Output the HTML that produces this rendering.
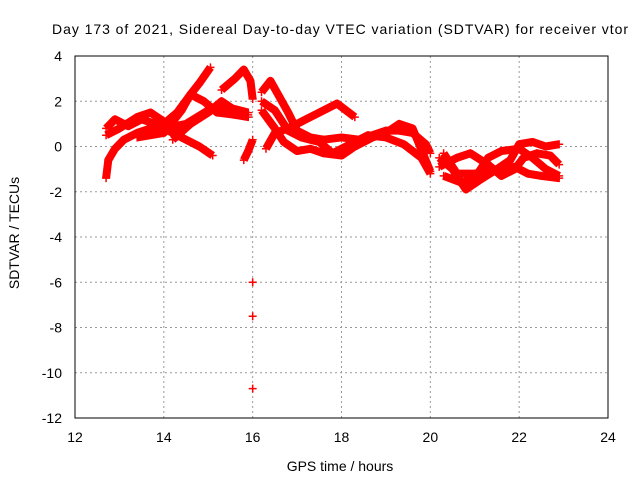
<!DOCTYPE html>
<html><head><meta charset="utf-8"><style>
body{margin:0;background:#fff}
svg text{font-family:"Liberation Sans",sans-serif;font-size:14px;fill:#000}
</style></head><body>
<svg id="c" width="640" height="480">
<text x="52" y="34" textLength="576" lengthAdjust="spacing">Day 173 of 2021, Sidereal Day-to-day VTEC variation (SDTVAR) for receiver vtor</text>
<text x="340" y="471" text-anchor="middle">GPS time / hours</text>
<text transform="translate(19,233) rotate(-90)" text-anchor="middle">SDTVAR / TECUs</text>
<g id="grid"></g><g id="marks"></g>
<rect x="75" y="56" width="533" height="362" fill="none" stroke="#000"/>
</svg>
<script>
const xTicks=[12,14,16,18,20,22,24];
const yTicks=[4,2,0,-2,-4,-6,-8,-10,-12];
const tracks=[
[[12.7,-1.4],[12.75,-0.6],[12.9,-0.1],[13.1,0.3],[13.4,0.6],[13.7,0.8],[14.0,1.0],[14.3,1.5],[14.6,2.3],[14.8,2.8],[15.05,3.5]],
[[12.7,0.8],[12.9,1.2],[13.2,0.9],[13.5,1.2],[13.8,1.0],[14.1,0.7],[14.5,0.3],[14.8,0],[15.1,-0.4]],
[[12.7,0.5],[13.0,0.8],[13.4,1.3],[13.7,1.5],[14.0,1.1],[14.4,0.7]],
[[13.4,0.4],[14.0,0.6],[14.4,1.6],[14.6,2.3],[14.9,2.0],[15.2,1.5],[15.6,1.4],[15.9,1.3]],
[[14.0,0.8],[14.5,1.0],[15.0,1.6],[15.5,1.7],[15.9,1.5]],
[[14.2,0.3],[14.6,1.0],[15.0,1.5],[15.3,2.0],[15.6,1.6],[15.9,1.4]],
[[15.3,2.5],[15.6,3.0],[15.8,3.4],[15.95,2.9],[16.0,2.1]],
[[15.8,-0.6],[15.9,-0.2],[16.0,0.3]],
[[16.2,2.4],[16.4,2.9],[16.6,2.2],[16.8,1.5],[17.0,0.7],[17.3,0.4],[17.6,0.3],[18.0,0.4],[18.4,0.3],[18.7,0.5],[19.0,0.7],[19.3,0.7],[19.6,0.6],[19.9,0.1],[20.0,-0.3]],
[[16.2,1.6],[16.5,0.8],[16.7,0.2],[17.0,-0.2],[17.3,-0.1],[17.6,-0.3],[18.0,-0.4],[18.3,0],[18.7,0.4],[19.0,0.6],[19.3,1.0],[19.6,0.8],[20.0,-1.1]],
[[16.3,-0.1],[16.5,0.6],[16.8,0.8],[17.2,1.2],[17.6,1.6],[17.9,1.9],[18.1,1.6],[18.3,1.3]],
[[16.2,2.0],[16.5,1.6],[16.8,0.7],[17.1,0.4],[17.5,0.2],[17.8,-0.3],[18.2,0.1],[18.6,0.5],[19.0,0.4],[19.4,0.1],[19.8,-0.5],[20.0,-1.2]],
[[20.2,-0.5],[20.5,-1.0],[20.8,-1.9],[21.1,-1.5],[21.5,-1.0],[21.8,-0.6],[22.0,0.1],[22.3,0.2],[22.6,0.0],[22.9,0.1]],
[[20.2,-0.9],[20.6,-0.5],[20.9,-0.3],[21.3,-0.8],[21.6,-1.3],[21.9,-1.0],[22.1,-0.5],[22.4,-0.3],[22.7,-0.4],[22.9,-0.8]],
[[20.3,-1.3],[20.7,-1.6],[21.0,-1.4],[21.3,-0.5],[21.6,-0.2],[22.0,-0.1],[22.3,-0.5],[22.6,-1.0],[22.9,-1.3]],
[[20.3,-0.3],[20.6,-1.2],[21.0,-1.2],[21.5,-1.0],[21.9,-0.9],[22.2,-1.2],[22.5,-1.3],[22.9,-1.4]]
];
const outliers=[[16,-6],[16,-7.5],[16,-10.7]];
const NS="http://www.w3.org/2000/svg";
const X=v=>75+(v-12)*533/12, Y=v=>56+(4-v)*362/16;
const grid=document.getElementById('grid'), marks=document.getElementById('marks');
function mk(t,a,p){const e=document.createElementNS(NS,t);for(const k in a)e.setAttribute(k,a[k]);p.appendChild(e);return e;}
xTicks.forEach(t=>{
 if(t>12&&t<24){const l=mk('line',{x1:X(t),x2:X(t),y1:56,y2:418,stroke:'#999','stroke-dasharray':'2,3'},grid);
 
 }
 const tx=mk('text',{x:X(t),y:442,'text-anchor':'middle'},grid);tx.textContent=t;
 
 
});
yTicks.forEach(t=>{
 if(t<4&&t>-12){const l=mk('line',{x1:75,x2:608,y1:Y(t),y2:Y(t),stroke:'#999','stroke-dasharray':'2,3'},grid);
 
 }
 const tx=mk('text',{x:62,y:Y(t)+5,'text-anchor':'end'},grid);tx.textContent=t;
 
 
});
function plus(x,y,p){const e=mk('path',{d:`M${x-4},${y}h8M${x},${y-4}v8`,stroke:'red','stroke-width':1.5},p);
 
 }
tracks.forEach((tr,i)=>{
 const g=mk('g',{},marks);
 
 
 mk('polyline',{points:tr.map(p=>X(p[0])+','+Y(p[1])).join(' '),fill:'none',stroke:'red','stroke-width':8,'stroke-linejoin':'round'},g);
 tr.forEach(p=>plus(X(p[0]),Y(p[1]),g));
});
outliers.forEach(p=>plus(X(p[0]),Y(p[1]),marks));
</script>
</body></html>
